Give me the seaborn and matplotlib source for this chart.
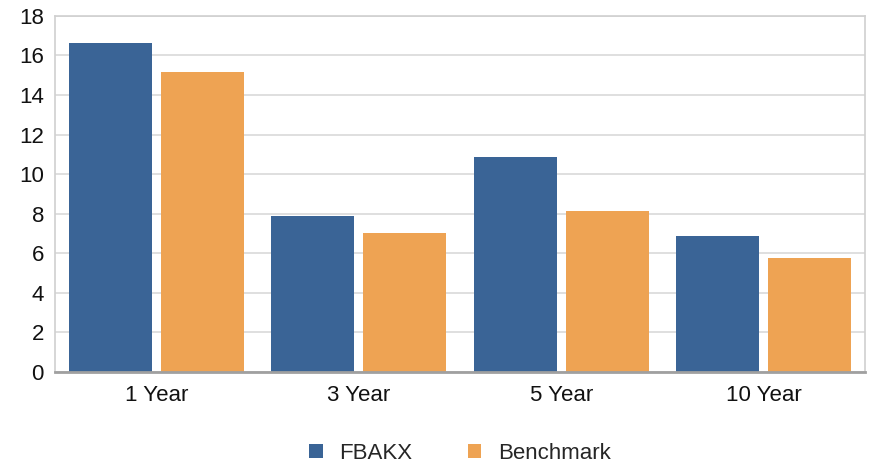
import matplotlib
matplotlib.use("Agg")
import matplotlib.pyplot as plt
import pandas as pd
import seaborn as sns

# 数据
periods = ["1 Year", "3 Year", "5 Year", "10 Year"]
series_names = ["FBAKX", "Benchmark"]
fbakx = [16.63, 7.89, 10.87, 6.88]
benchmark = [15.17, 7.03, 8.14, 5.76]
colors = ["#3A6496", "#EEA353"]

df = pd.DataFrame({
    "period": periods * 2,
    "series": [series_names[0]] * 4 + [series_names[1]] * 4,
    "value": fbakx + benchmark,
})

sns.set_theme(style="white")
plt.rcParams["font.family"] = ["Liberation Sans", "DejaVu Sans"]

fig, ax = plt.subplots(figsize=(8.73, 4.65), dpi=100)
fig.subplots_adjust(left=0.063, right=0.991, top=0.966, bottom=0.2)

sns.barplot(
    data=df, x="period", y="value", hue="series",
    order=periods, hue_order=series_names,
    palette=colors, width=0.909, gap=0.098,
    saturation=1, linewidth=0, ax=ax,
)

ax.set_ylim(0, 18)
ax.set_yticks(range(0, 19, 2))
ax.set_xlim(-0.5, 3.5)
ax.set_xlabel("")
ax.set_ylabel("")
ax.yaxis.grid(True, color="#d9d9d9", linewidth=1.2)
ax.set_axisbelow(True)
ax.tick_params(axis="both", length=0, labelsize=16, colors="#111111")
ax.tick_params(axis="x", pad=9)
ax.tick_params(axis="y", pad=8)

for side in ["left", "right", "top"]:
    ax.spines[side].set_color("#d0d0d0")
    ax.spines[side].set_linewidth(1.2)
ax.spines["bottom"].set_color("#a0a0a0")
ax.spines["bottom"].set_linewidth(2)

# 图例放在底部居中
ax.legend(
    loc="center", bbox_to_anchor=(0.5, -0.2275), ncol=2, frameon=False,
    fontsize=16, handlelength=0.6, handleheight=0.6, columnspacing=2.5,
    handletextpad=0.75,
)

fig.savefig("out.png", dpi=100)
